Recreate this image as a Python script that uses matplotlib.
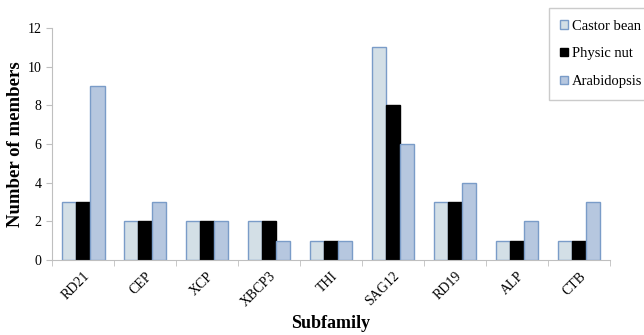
import matplotlib
matplotlib.use('Agg')
import matplotlib.pyplot as plt
import numpy as np

plt.rcParams['font.family'] = ['Liberation Serif', 'DejaVu Serif']

subfamilies = ['RD21', 'CEP', 'XCP', 'XBCP3', 'THI', 'SAG12', 'RD19', 'ALP', 'CTB']
castor_bean = [3, 2, 2, 2, 1, 11, 3, 1, 1]
physic_nut = [3, 2, 2, 2, 1, 8, 3, 1, 1]
arabidopsis = [9, 3, 2, 1, 1, 6, 4, 2, 3]

fig = plt.figure(figsize=(6.44, 3.35), dpi=100)
ax = fig.add_axes([0.081, 0.224, 0.866, 0.692])

x = np.arange(len(subfamilies))
w = 0.23
edge = '#7A9CC8'
ax.bar(x - w, castor_bean, w, color='#D3DFE6', edgecolor=edge, linewidth=1.0, label='Castor bean')
ax.bar(x, physic_nut, w, color='black', edgecolor='black', linewidth=1.0, label='Physic nut')
ax.bar(x + w, arabidopsis, w, color='#B6C7DF', edgecolor=edge, linewidth=1.0, label='Arabidopsis')

ax.set_xlim(-0.5, len(subfamilies) - 0.5)
ax.set_ylim(0, 12)
ax.set_yticks(range(0, 13, 2))

# category labels in the middle, tick marks on the boundaries
ax.set_xticks(x)
ax.set_xticklabels(subfamilies, rotation=45, ha='right', rotation_mode='anchor', fontsize=10)
ax.set_xticks(np.arange(-0.5, len(subfamilies) + 0.5, 1), minor=True)
ax.tick_params(axis='x', which='major', length=0, pad=7)
ax.tick_params(axis='x', which='minor', length=4, color='#BFBFBF', direction='out')
ax.tick_params(axis='y', length=4, color='#BFBFBF', labelsize=10)

for s in ['top', 'right']:
    ax.spines[s].set_visible(False)
for s in ['left', 'bottom']:
    ax.spines[s].set_color('#BFBFBF')

ax.set_ylabel('Number of members', fontsize=13.5, fontweight='bold', labelpad=3)
ax.set_xlabel('Subfamily', fontsize=13, fontweight='bold', labelpad=4)

leg = fig.legend(loc='upper left', bbox_to_anchor=(0.852, 0.976), fontsize=10.5,
                 frameon=True, fancybox=False, edgecolor='#BFBFBF',
                 handlelength=0.5, handleheight=0.5, handletextpad=0.3,
                 labelspacing=1.0, borderpad=0.8, borderaxespad=0)
leg.get_frame().set_linewidth(1.0)

fig.savefig('out.png', dpi=100)
